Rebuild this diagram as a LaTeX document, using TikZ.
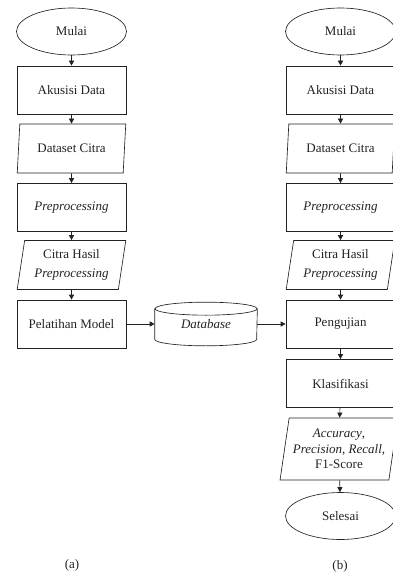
\documentclass[tikz,border=0pt]{standalone}
\usepackage{fontspec}
\setmainfont{Liberation Serif}
\usepackage{tikz}
\usetikzlibrary{arrows.meta,positioning,shapes.geometric}
\definecolor{inkx}{HTML}{222222}
\tikzset{
  ar/.style={-{Triangle[length=5pt,width=5pt]},line width=0.65pt,inkx},
  base/.style={draw=inkx,line width=0.65pt,align=center,text=inkx,inner sep=0pt,
    font=\fontsize{13}{15.5}\selectfont},
  term/.style={base,ellipse,minimum width=110pt,minimum height=47pt},
  proc/.style={base,rectangle,minimum width=109pt,minimum height=48pt},
  io/.style={base,trapezium,trapezium left angle=79,trapezium right angle=101,
    trapezium stretches=true,minimum width=109pt,minimum height=49pt},
  store/.style={base,draw=none,rectangle,minimum width=102pt,minimum height=43pt},
  rim/.style={draw=inkx,line width=0.65pt}
}
\begin{document}
\begin{tikzpicture}[x=1pt,y=-1pt]
\clip (0,0) rectangle (393,578);
% alur (a)
\node[term] (a1) at (71.5,31.5) {Mulai};
\node[proc] (a2) at (71.5,90) {Akusisi Data};
\node[io] (a3) at (71.5,148.5) {Dataset Citra};
\node[proc] (a4) at (71.5,207.5) {\textit{Preprocessing}};
\node[io] (a5) at (71.5,265) {Citra Hasil\\[3pt]\textit{Preprocessing}};
\node[proc] (a6) at (71.5,324) {Pelatihan Model};
% basis data
\node[store] (db) at (206,324) {\raisebox{-4pt}{\textit{Database}}};
\draw[rim] ([yshift=-6.5pt]db.north) ellipse [x radius=51pt,y radius=6.5pt];
\draw[rim] ([yshift=-6.5pt]db.north west) -- ([yshift=6.5pt]db.south west)
  arc[start angle=180,end angle=360,x radius=51pt,y radius=6.5pt]
  -- ([yshift=-6.5pt]db.north east);
% alur (b)
\node[term] (b1) at (340.5,31.5) {Mulai};
\node[proc] (b2) at (340.5,90) {Akusisi Data};
\node[io] (b3) at (340.5,148.5) {Dataset Citra};
\node[proc] (b4) at (340.5,207.5) {\textit{Preprocessing}};
\node[io] (b5) at (340.5,265) {Citra Hasil\\[3pt]\textit{Preprocessing}};
\node[proc] (b6) at (340.5,324) {Pengujian};
\node[proc] (b7) at (340.5,383.5) {Klasifikasi};
\node[io,trapezium left angle=78,trapezium right angle=102,minimum width=118pt,
  minimum height=62pt] (b8) at (339,449)
  {\textit{Accuracy},\\\textit{Precision}, \textit{Recall},\\F1-Score};
\node[term] (b9) at (340.5,516) {Selesai};
% keterangan
\node[font=\fontsize{13}{15}\selectfont,text=inkx] (la) at (72,565) {(a)};
\node[font=\fontsize{13}{15}\selectfont,text=inkx] (lb) at (340,566) {(b)};
% panah
\foreach \p/\q in {a1/a2,a2/a3,a3/a4,a4/a5,a5/a6,b1/b2,b2/b3,b3/b4,b4/b5,b5/b6,b6/b7,b7/b8,b8/b9}
  \draw[ar] (\p) -- (\q);
\draw[ar] (a6) -- (db);
\draw[ar] (db) -- (b6);
\end{tikzpicture}
\end{document}
